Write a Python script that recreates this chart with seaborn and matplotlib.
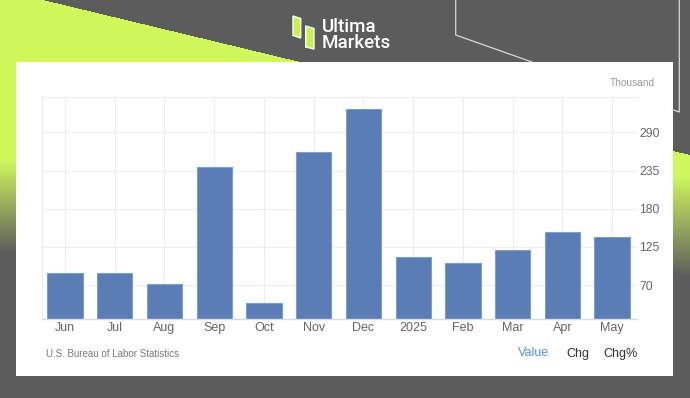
import numpy as np
import pandas as pd
import matplotlib
matplotlib.use("Agg")
import matplotlib.pyplot as plt
from matplotlib.patches import Rectangle, Polygon
import seaborn as sns

# Non-farm payrolls, thousands
months = ['Jun', 'Jul', 'Aug', 'Sep', 'Oct', 'Nov', 'Dec', '2025', 'Feb', 'Mar', 'Apr', 'May']
values = [87, 88, 71, 240, 44, 261, 323, 111, 102, 120, 147, 139]
y_ticks = [70, 125, 180, 235, 290]
unit_label = 'Thousand'
source = 'U.S. Bureau of Labor Statistics'
tabs = ['Value', 'Chg', 'Chg%']

df = pd.DataFrame({'month': months, 'value': values})

sns.set_style('white')
narrow = ['Liberation Sans Narrow', 'Liberation Sans', 'DejaVu Sans']
plt.rcParams['font.family'] = narrow

W, H = 690, 398
fig = plt.figure(figsize=(W / 100, H / 100), dpi=100)

# background decoration in pixel coordinates
bg = fig.add_axes([0, 0, 1, 1], zorder=0)
bg.set_xlim(0, W)
bg.set_ylim(H, 0)
bg.axis('off')

gray = np.array([92, 92, 92]) / 255
lime = np.array([208, 248, 92]) / 255
yy, xx = np.mgrid[0:H, 0:W] + 0.5
w = np.zeros((H, W))
# top-left wedge
w[(yy < 64) & (yy > (xx - 43) * 62 / 257)] = 1
# left strip fading down
left = np.clip((253 - yy) / (253 - 160), 0, 1)
w = np.where(xx < 17, np.maximum(w, left), w)
# right strip
right = np.clip((277 - yy) / (277 - 175), 0, 1)
right = np.where(yy > 151 + (xx - 673) * 4 / 17, right, 0)
w = np.where(xx > 672, right, w)
img = gray[None, None, :] * (1 - w[..., None]) + lime[None, None, :] * w[..., None]
bg.imshow(img, extent=(0, W, H, 0), aspect='auto', interpolation='bilinear')

# thin outline lines top right
bg.plot([455.7, 455.7, 532], [0, 35, 62], color='#d8d8d8', lw=0.9)
bg.plot([679.3, 679.3, 672], [0, 112, 109.5], color='#d8d8d8', lw=0.9)

# white panel
bg.add_patch(Rectangle((16, 62), 657, 314, facecolor='white', edgecolor='none'))

# logo
bg.add_patch(Polygon([(293, 16), (300.7, 18.5), (300.7, 38), (293, 35.5)], facecolor='#c8ef55'))
bg.add_patch(Polygon([(305.7, 26), (314, 28.5), (314, 49), (305.7, 47)], facecolor='#c8ef55'))
bg.text(321.5, 31.7, 'Ultima', color='white', fontsize=13.5, family=['Roboto', 'DejaVu Sans'],
        weight='medium', va='baseline', ha='left')
bg.text(321.5, 48.3, 'Markets', color='white', fontsize=13.5, family=['Roboto', 'DejaVu Sans'],
        weight='medium', va='baseline', ha='left')

# panel texts
bg.text(655, 82.5, unit_label, color='#9a9a9a', fontsize=7.3, ha='right', va='center')
bg.text(46, 354, source, color='#7a7a7a', fontsize=7, ha='left', va='center')
bg.text(534, 353.5, tabs[0], color='#5b8fe0', fontsize=9, ha='center', va='center')
bg.text(578, 353.5, tabs[1], color='#333333', fontsize=9, ha='center', va='center')
bg.text(621, 353.5, tabs[2], color='#333333', fontsize=9, ha='center', va='center')

# chart axes
ax = fig.add_axes([42 / W, 1 - 319.3 / H, 595 / W, 222 / H], zorder=2)
ax.set_facecolor('white')
sns.barplot(data=df, x='month', y='value', color='#5a7db6', saturation=1,
            width=0.71, edgecolor='#7d9ed2', linewidth=0.8, ax=ax)
ax.set_xlim(-0.4625, 11.50)
ax.set_ylim(20.6, 340.5)
ax.set_yticks(y_ticks)
ax.yaxis.tick_right()
ax.set_xlabel('')
ax.set_ylabel('')
ax.set_axisbelow(True)
ax.grid(True, axis='both', color='#ededed', lw=0.8)
for s in ['top', 'left']:
    ax.spines[s].set_color('#ededed')
    ax.spines[s].set_linewidth(0.8)
ax.spines['right'].set_visible(False)
ax.spines['bottom'].set_color('#d3dcec')
ax.spines['bottom'].set_linewidth(1)
ax.tick_params(axis='y', length=0, pad=1.5, labelsize=8.7, labelcolor='#666666')
ax.tick_params(axis='x', length=0, pad=2, labelsize=9, labelcolor='#666666')

fig.savefig('out.png', dpi=100)
